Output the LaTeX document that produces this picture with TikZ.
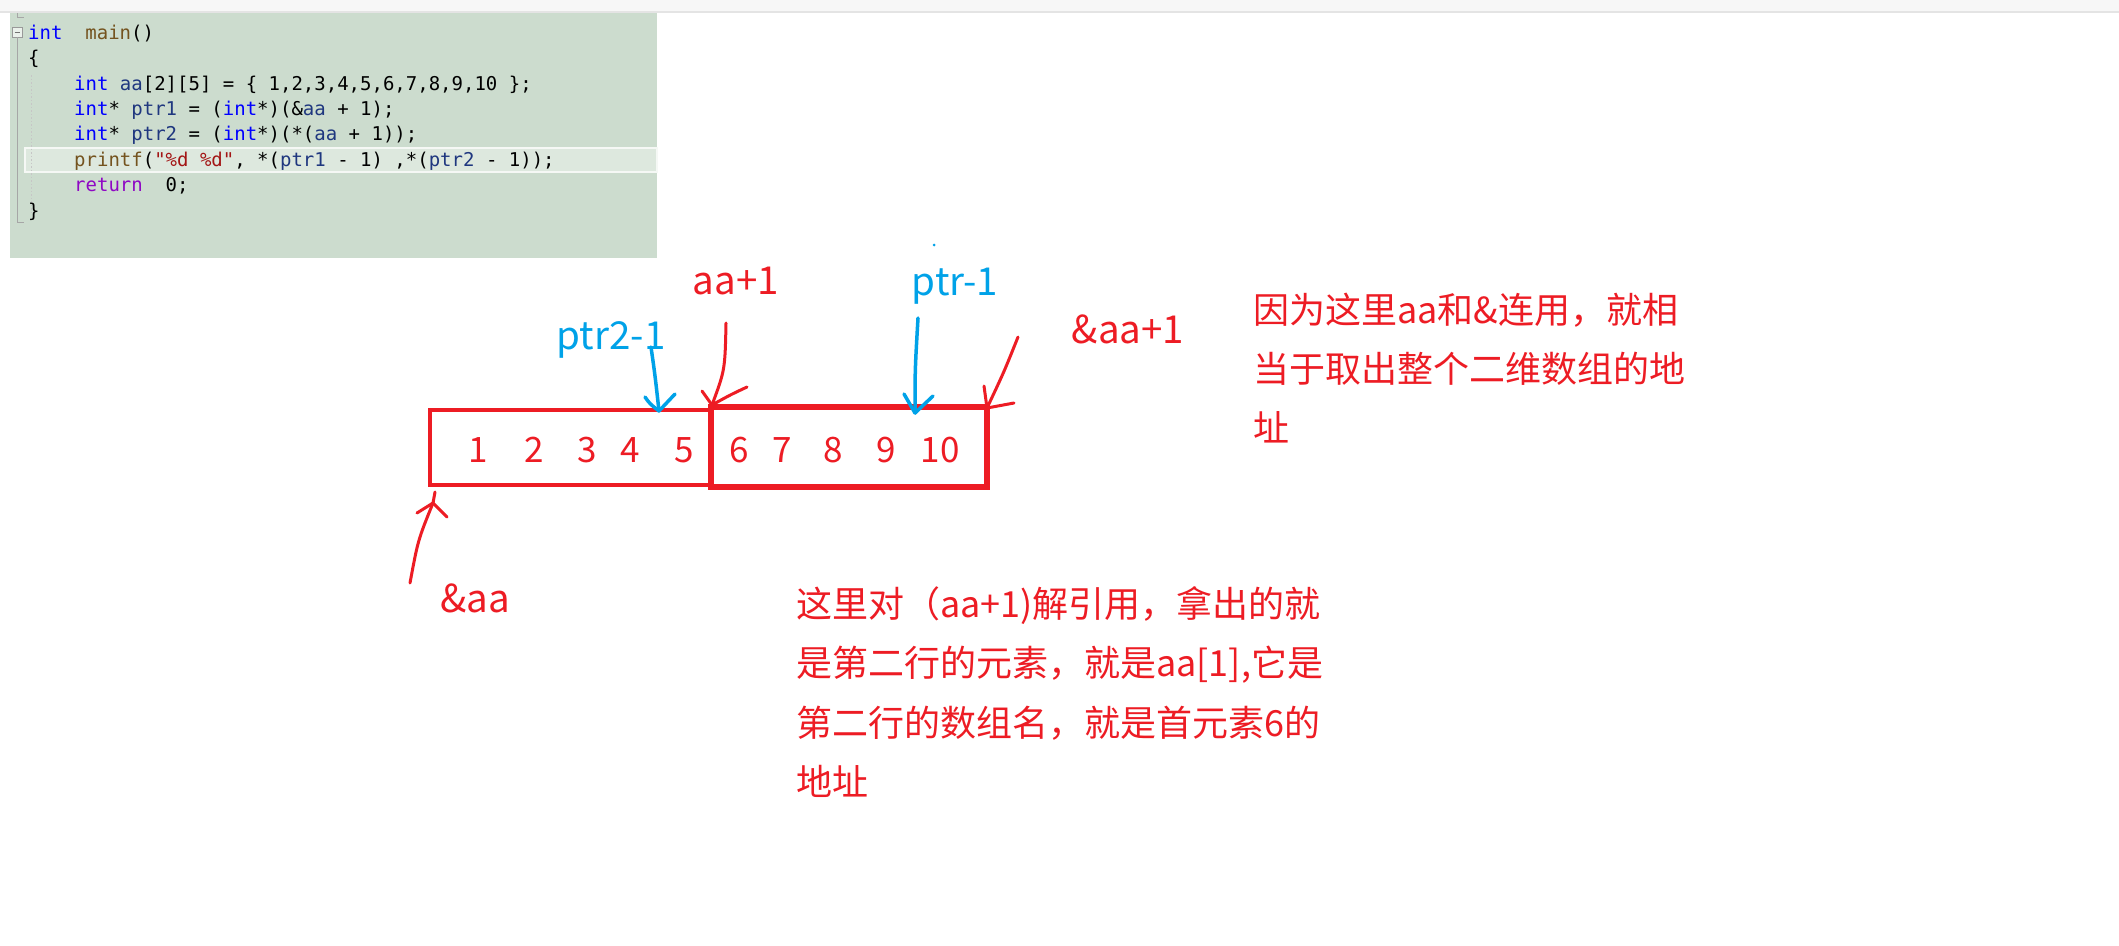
\documentclass[tikz,border=0pt]{standalone}
\usepackage{fontspec}
\setmonofont{DejaVu Sans Mono}
\newfontfamily\cjk{Noto Sans CJK SC}
\definecolor{redpaint}{RGB}{237,28,36}
\definecolor{bluepaint}{RGB}{0,162,232}
\definecolor{panelbg}{RGB}{204,220,206}
\definecolor{hlbg}{RGB}{221,232,222}
\definecolor{topbar}{RGB}{247,247,247}
\definecolor{topline}{RGB}{228,228,228}
\definecolor{vskw}{RGB}{0,0,255}
\definecolor{vsfn}{RGB}{116,83,31}
\definecolor{vsvar}{RGB}{31,55,127}
\definecolor{vsstr}{RGB}{163,21,21}
\definecolor{vsret}{RGB}{143,8,196}
\newcommand{\ckw}[1]{\textcolor{vskw}{#1}}
\newcommand{\cfn}[1]{\textcolor{vsfn}{#1}}
\newcommand{\cvar}[1]{\textcolor{vsvar}{#1}}
\newcommand{\cstr}[1]{\textcolor{vsstr}{#1}}
\newcommand{\cret}[1]{\textcolor{vsret}{#1}}
\tikzset{
  codeline/.style={inner sep=0pt, anchor=base west, font=\ttfamily\fontsize{19}{19}\selectfont, text=black},
  anno/.style={inner sep=0pt, anchor=base west, font=\cjk\fontsize{36}{36}\selectfont, text=redpaint},
  lbl/.style={inner sep=0pt, anchor=base, font=\cjk\fontsize{38.5}{38.5}\selectfont},
  num/.style={inner sep=0pt, anchor=base, font=\cjk\fontsize{35}{35}\selectfont, text=redpaint},
  redpen/.style={draw=redpaint, line width=3pt, line cap=round, line join=round},
  bluepen/.style={draw=bluepaint, line width=3.5pt, line cap=round, line join=round},
}
\begin{document}
\begin{tikzpicture}[x=1pt,y=-1pt]
\useasboundingbox (0,0) rectangle (2119,945);
\fill[white] (0,0) rectangle (2119,945);
% top bar
\fill[topbar] (0,0) rectangle (2119,11);
\fill[topline] (0,11) rectangle (2119,13);
% code panel
\fill[panelbg] (10,13) rectangle (657,258);
\filldraw[fill=hlbg, draw=white!70!hlbg, line width=1.5pt] (25,148) rectangle (657,172);
% fold markers
\draw[gray!70, line width=1pt] (17,13) -- (17,17) -- (24,17);
\draw[gray!80, line width=1pt, fill=white!60!panelbg] (12,27) rectangle (22,37);
\draw[gray!90!black, line width=1pt] (14.5,32) -- (19.5,32);
\draw[gray!70, line width=1pt] (17,37) -- (17,222) -- (24,222);
\draw[gray!45, line width=0.8pt, dash pattern=on 1.5pt off 2pt] (31,75) -- (31,212);
% code
\node[codeline] (c1) at (28,39) {\ckw{int}~~\cfn{main}()};
\node[codeline] (c2) at (28,64) {\{};
\node[codeline] (c3) at (74,90) {\ckw{int} \cvar{aa}[2][5] = \{ 1,2,3,4,5,6,7,8,9,10 \};};
\node[codeline] (c4) at (74,115) {\ckw{int}* \cvar{ptr1} = (\ckw{int}*)(\&\cvar{aa} + 1);};
\node[codeline] (c5) at (74,140) {\ckw{int}* \cvar{ptr2} = (\ckw{int}*)(*(\cvar{aa} + 1));};
\node[codeline] (c6) at (74,166) {\cfn{printf}(\cstr{"\%d \%d"}, *(\cvar{ptr1} - 1) ,*(\cvar{ptr2} - 1));};
\node[codeline] (c7) at (74,191) {\cret{return}~~0;};
\node[codeline] (c8) at (28,217) {\}};
% array boxes
\node[draw=redpaint, line width=4.5pt, minimum width=281pt, minimum height=75pt, inner sep=0pt] (rowA) at (570.5,447.5) {};
\node[draw=redpaint, line width=6.5pt, minimum width=276pt, minimum height=80pt, inner sep=0pt] (rowB) at (849,447) {};
% numbers
\node[num] (n1) at (478,462) {1};
\node[num] (n2) at (534,462) {2};
\node[num] (n3) at (587,462) {3};
\node[num] (n4) at (630,462) {4};
\node[num] (n5) at (684,462) {5};
\node[num] (n6) at (739,462) {6};
\node[num] (n7) at (782,462) {7};
\node[num] (n8) at (833,462) {8};
\node[num] (n9) at (886,462) {9};
\node[num] (n10) at (940,462) {10};
% labels
\node[lbl, text=redpaint] (laa1) at (736,294) {aa+1};
\node[lbl, text=bluepaint] (lptr) at (955,295) {ptr-1};
\node[lbl, text=bluepaint] (lptr2) at (611,349) {ptr2-1};
\node[lbl, text=redpaint] (laddr1) at (1128,343) {\&aa+1};
\node[lbl, text=redpaint] (laddr) at (475,612) {\&aa};
\fill[bluepaint] (934,245) circle (1.5pt);
% arrow coordinates
\coordinate (s1) at (651,347); \coordinate (t1) at (659,411);
\coordinate (s2) at (726,323); \coordinate (t2) at (712,405);
\coordinate (s3) at (918,318); \coordinate (t3) at (915,413);
\coordinate (s4) at (1018,337); \coordinate (t4) at (987,408);
\coordinate (s5) at (410,583); \coordinate (t5) at (433,503);
% ptr2-1 arrow
\draw[bluepen] (s1) .. controls (655,375) .. (t1);
\draw[bluepen] (t1) .. controls (650,404) .. (645,397);
\draw[bluepen] (t1) -- (675,394);
% aa+1 arrow
\draw[redpen] (s2) .. controls (725,370) .. (t2);
\draw[redpen] (t2) -- (702,391);
\draw[redpen] (t2) .. controls (730,395) .. (747,387);
% ptr-1 arrow
\draw[bluepen] (s3) .. controls (915,370) .. (t3);
\draw[bluepen] (t3) -- (904,394);
\draw[bluepen] (t3) -- (933,396);
% &aa+1 arrow
\draw[redpen] (s4) .. controls (1004,372) .. (t4);
\draw[redpen] (t4) -- (984,386);
\draw[redpen] (t4) -- (1014,403);
% &aa arrow
\draw[redpen] (s5) .. controls (418,540) .. (t5);
\draw[redpen] (t5) -- (417,513);
\draw[redpen] (t5) -- (447,517);
\draw[redpen] (t5) -- (435,492);
% annotations
\node[anno] (r1) at (1253,323) {因为这里aa和\&连用，就相};
\node[anno] (r2) at (1253,382) {当于取出整个二维数组的地};
\node[anno] (r3) at (1253,441) {址};
\node[anno] (b1) at (796,617) {这里对（aa+1)解引用，拿出的就};
\node[anno] (b2) at (796,676) {是第二行的元素，就是aa[1],它是};
\node[anno] (b3) at (796,736) {第二行的数组名，就是首元素6的};
\node[anno] (b4) at (796,795) {地址};
\end{tikzpicture}
\end{document}
